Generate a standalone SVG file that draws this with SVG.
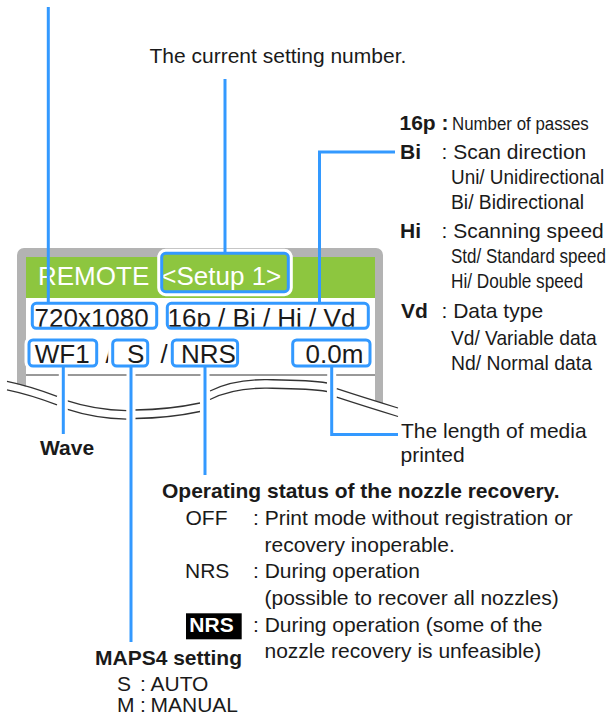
<svg xmlns="http://www.w3.org/2000/svg" width="611" height="717" viewBox="0 0 611 717">
<style>
text { font-family: "Liberation Sans", Arial, Helvetica, sans-serif; fill: #1a1a1a; }
.t21 { font-size: 21px; }
.b21 { font-size: 21px; font-weight: bold; }
.scr { font-size: 26px; }
.w { fill: #ffffff; }
.bhalo { fill: #ffffff; stroke: #ffffff; stroke-width: 9; }
.box { fill: none; stroke: #3399ff; stroke-width: 3; }
.conn { fill: none; stroke: #3399ff; stroke-width: 3; }
.chalo { fill: none; stroke: #ffffff; stroke-width: 9; }
.wave { fill: none; stroke: #333333; stroke-width: 1.3; }
</style>
<defs>
  <clipPath id="cSetup"><rect x="163.2" y="254.8" width="123.6" height="35.4"/></clipPath>
  <clipPath id="cRes"><rect x="33.8" y="304.8" width="121.4" height="22"/></clipPath>
  <clipPath id="cMode"><rect x="168.8" y="304.8" width="198" height="22"/></clipPath>
  <clipPath id="cWF"><rect x="30.5" y="341.5" width="64.7" height="23"/></clipPath>
  <clipPath id="cS"><rect x="114.2" y="341.5" width="32" height="23"/></clipPath>
  <clipPath id="cNRS"><rect x="173.8" y="341.5" width="62.3" height="23"/></clipPath>
  <clipPath id="cLen"><rect x="294.2" y="341.5" width="74.3" height="23"/></clipPath>
  <g id="waveUpper">
    <path d="M7,381.3 Q30,386 57,396.3"/>
    <path d="M66.7,400.7 Q95,410 126.5,410.7"/>
    <path d="M135,410 Q170,409.5 200,403"/>
    <path d="M210,391 C230,381 250,379.5 267,379.7 C290,380 310,380 327,383"/>
    <path d="M336.7,388.7 Q365,398 398,408"/>
  </g>
</defs>

<!-- Screen -->
<g id="screen">
  <rect x="17" y="248" width="366" height="170" rx="7" fill="#b3b3b3"/>
  <rect x="26" y="257" width="349" height="170" fill="#ffffff"/>
  <rect x="26" y="257" width="349" height="41" fill="#8dc63f"/>
  <line x1="26" y1="375" x2="375" y2="375" stroke="#333333" stroke-width="1"/>
  <path d="M0,379 L7,381.3 L57,396.3 L66.7,400.7 L126.5,410.7 L135,410 L200,403 L210,391 L267,379.7 L327,383 L336.7,388.7 L398,408 L398,440 L0,440 Z" fill="#ffffff"/>
  <g class="wave">
    <use href="#waveUpper"/>
    <use href="#waveUpper" transform="translate(0,8.5)"/>
  </g>
  <text class="scr w" x="38" y="285">REMOTE</text>
</g>

<!-- halos where connectors cross the screen lines -->
<g id="connector-halos" class="chalo">
  <line x1="63.3" y1="371" x2="63.3" y2="421"/>
  <line x1="131" y1="371" x2="131" y2="421"/>
  <line x1="205" y1="371" x2="205" y2="421"/>
  <line x1="331.7" y1="371" x2="331.7" y2="421"/>
</g>

<!-- Boxes -->
<g id="box-setup">
  <rect class="bhalo" x="161.7" y="253.3" width="126.6" height="38.4" rx="4"/>
  <rect x="161.7" y="253.3" width="126.6" height="38.4" rx="4" fill="#8dc63f"/>
  <text class="scr w" x="161.3" y="285" clip-path="url(#cSetup)">&lt;Setup 1&gt;</text>
  <rect class="box" x="161.7" y="253.3" width="126.6" height="38.4" rx="4"/>
</g>
<g id="box-resolution">
  <rect class="bhalo" x="32.3" y="303.3" width="124.4" height="25" rx="4"/>
  <text class="scr" x="34.5" y="326.7" clip-path="url(#cRes)">720x1080</text>
  <rect class="box" x="32.3" y="303.3" width="124.4" height="25" rx="4"/>
</g>
<g id="box-mode">
  <rect class="bhalo" x="167.3" y="303.3" width="201" height="25" rx="4"/>
  <text class="scr" x="167.5" y="326.7" clip-path="url(#cMode)">16p / Bi / Hi / Vd</text>
  <rect class="box" x="167.3" y="303.3" width="201" height="25" rx="4"/>
</g>
<g id="slashes">
  <text class="scr" x="105.5" y="362.5">/</text>
  <text class="scr" x="160.5" y="362.5">/</text>
</g>
<g id="box-wave">
  <rect class="bhalo" x="29" y="340" width="67.7" height="26" rx="4"/>
  <text class="scr" x="34.8" y="362.5" clip-path="url(#cWF)">WF1</text>
  <rect class="box" x="29" y="340" width="67.7" height="26" rx="4"/>
</g>
<g id="box-maps">
  <rect class="bhalo" x="112.7" y="340" width="35" height="26" rx="4"/>
  <text class="scr" x="127" y="362.5" clip-path="url(#cS)">S</text>
  <rect class="box" x="112.7" y="340" width="35" height="26" rx="4"/>
</g>
<g id="box-nrs">
  <rect class="bhalo" x="172.3" y="340" width="65.3" height="26" rx="4"/>
  <text class="scr" x="181" y="362.5" clip-path="url(#cNRS)">NRS</text>
  <rect class="box" x="172.3" y="340" width="65.3" height="26" rx="4"/>
</g>
<g id="box-length">
  <rect class="bhalo" x="292.7" y="340" width="77.3" height="26" rx="4"/>
  <text class="scr" x="305.5" y="362.5" clip-path="url(#cLen)">0.0m</text>
  <rect class="box" x="292.7" y="340" width="77.3" height="26" rx="4"/>
</g>

<!-- Connectors -->
<g id="connectors" class="conn">
  <path d="M48.3,7 V302"/>
  <path d="M225,79 V252"/>
  <path d="M395,152 H319.5 V302"/>
  <path d="M63.3,367 V434"/>
  <path d="M131,367 V642"/>
  <path d="M205,367 V475"/>
  <path d="M331.7,367 V434.5 H398"/>
</g>

<!-- Annotations -->
<g id="label-setting">
  <text class="t21" x="149.5" y="63.3">The current setting number.</text>
</g>
<g id="label-mode">
  <text class="b21" x="399.5" y="130">16p :</text>
  <text font-size="19" transform="matrix(0.888,0,0,1,452,130)">Number of passes</text>
  <text class="b21" x="400" y="159">Bi</text>
  <text class="t21" x="441.5" y="159">: Scan direction</text>
  <text class="t21" transform="matrix(0.9,0,0,1,451,184)">Uni/ Unidirectional</text>
  <text class="t21" transform="matrix(0.919,0,0,1,451,209)">Bi/ Bidirectional</text>
  <text class="b21" x="400" y="238">Hi</text>
  <text class="t21" x="441.5" y="238">: Scanning speed</text>
  <text class="t21" transform="matrix(0.809,0,0,1,451,263)">Std/ Standard speed</text>
  <text class="t21" transform="matrix(0.82,0,0,1,451,288)">Hi/ Double speed</text>
  <text class="b21" x="401" y="318">Vd</text>
  <text class="t21" x="441.5" y="318">: Data type</text>
  <text class="t21" transform="matrix(0.913,0,0,1,451,345)">Vd/ Variable data</text>
  <text class="t21" transform="matrix(0.922,0,0,1,451,370)">Nd/ Normal data</text>
</g>
<g id="label-length">
  <text class="t21" x="401" y="438.3">The length of media</text>
  <text class="t21" x="400.5" y="461.7">printed</text>
</g>
<g id="label-wave">
  <text class="b21" x="40" y="455">Wave</text>
</g>
<g id="label-nrs">
  <text class="b21" x="162" y="498">Operating status of the nozzle recovery.</text>
  <text class="t21" x="185.5" y="525">OFF</text>
  <text class="t21" x="253" y="525">: Print mode without registration or</text>
  <text class="t21" x="264.5" y="551.7">recovery inoperable.</text>
  <text class="t21" x="185" y="578.3">NRS</text>
  <text class="t21" x="253" y="578.3">: During operation</text>
  <text class="t21" x="264.5" y="605">(possible to recover all nozzles)</text>
  <rect x="186" y="613.3" width="55.7" height="26" fill="#000000"/>
  <text class="b21 w" x="189.3" y="631.7">NRS</text>
  <text class="t21" x="253" y="631.7">: During operation (some of the</text>
  <text class="t21" x="264.5" y="658.3">nozzle recovery is unfeasible)</text>
</g>
<g id="label-maps">
  <text class="b21" x="95" y="665">MAPS4 setting</text>
  <text class="t21" x="117" y="691">S</text>
  <text class="t21" x="140" y="691">:</text>
  <text class="t21" x="150.5" y="691">AUTO</text>
  <text class="t21" x="117" y="712">M</text>
  <text class="t21" x="140" y="712">:</text>
  <text class="t21" x="150.5" y="712">MANUAL</text>
</g>
</svg>
